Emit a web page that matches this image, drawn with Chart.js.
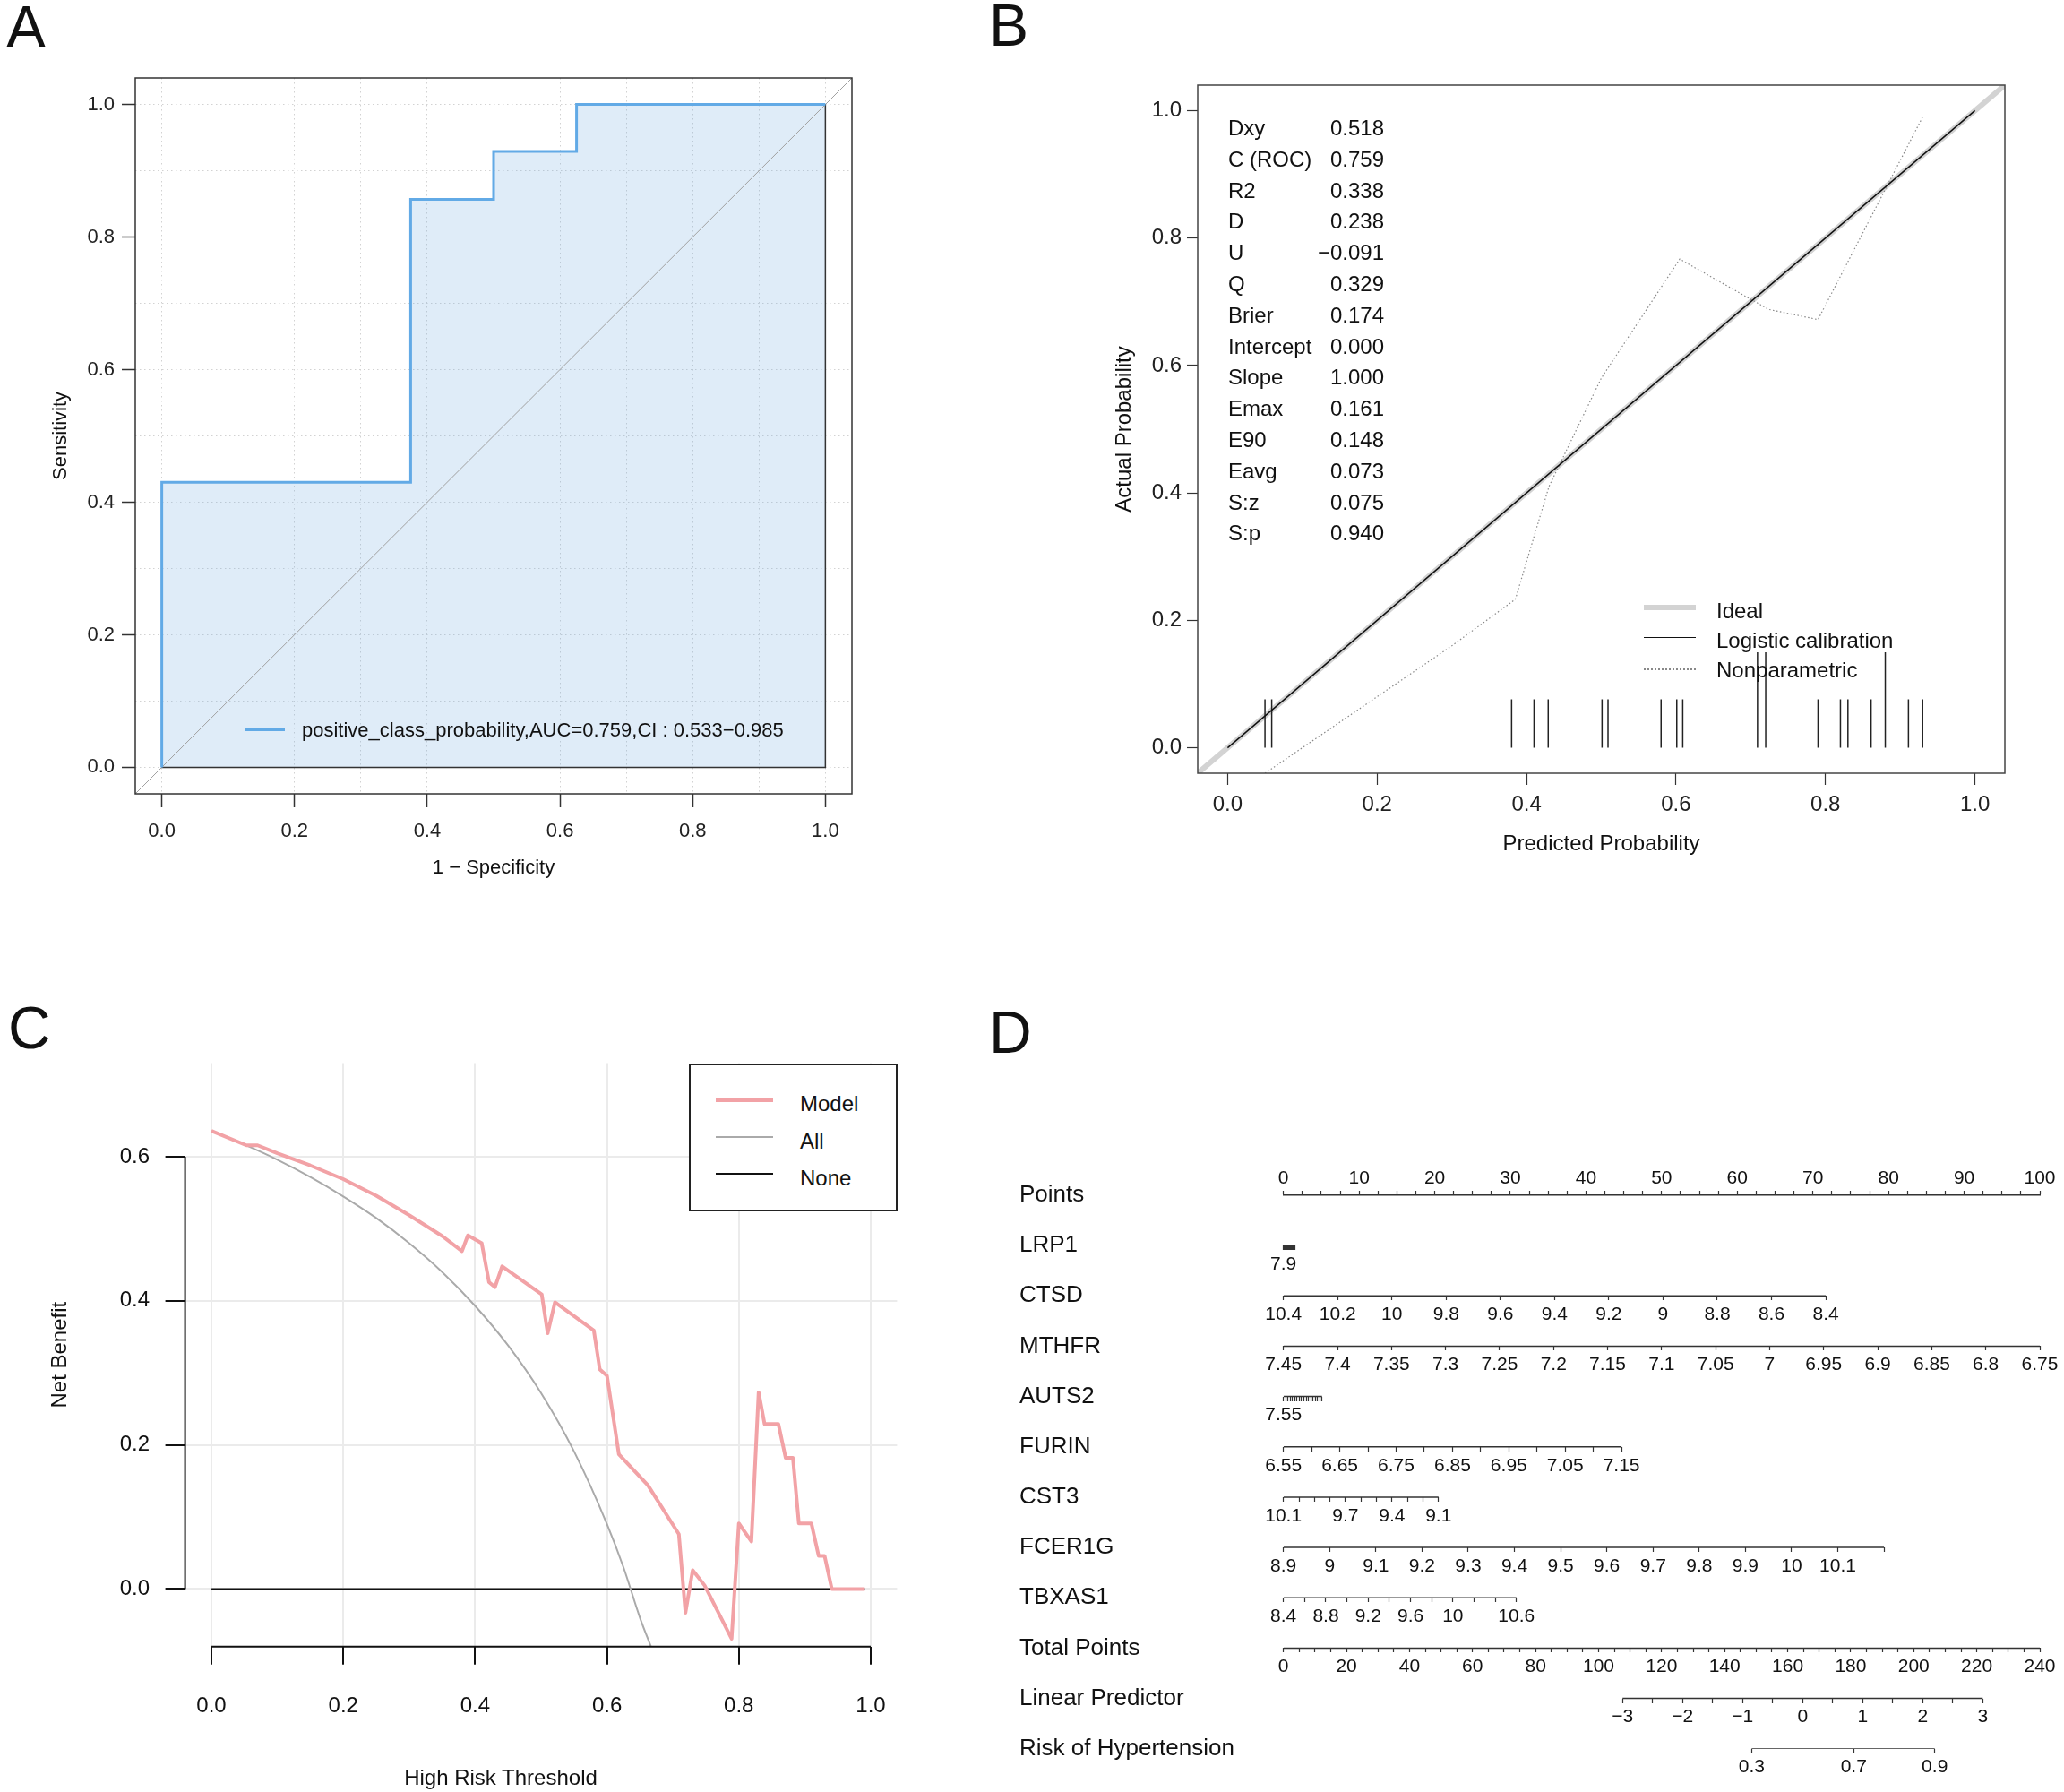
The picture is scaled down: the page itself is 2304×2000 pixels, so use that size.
<!DOCTYPE html>
<html>
<head>
<meta charset="utf-8">
<script src="https://cdn.jsdelivr.net/npm/chart.js@4.4.1/dist/chart.umd.min.js"></script>
<style>
  body { margin: 0; background: #fff; }
  #page { position: relative; width: 2304px; height: 2000px; overflow: hidden; font-family: 'Liberation Sans', Arial, sans-serif; color: #111; }
  canvas { position: absolute; }
  .tag { position: absolute; font-size: 66px; line-height: 66px; }
  .txt { position: absolute; white-space: nowrap; font-size: 24px; line-height: 28px; }
  .key { position: absolute; }
</style>
</head>
<body>
<div id="page">
  <div class="tag" style="left:7px;top:-3px">A</div>
  <div class="tag" style="left:1104px;top:-5px">B</div>
  <div class="tag" style="left:9px;top:1114px">C</div>
  <div class="tag" style="left:1104px;top:1119px">D</div>

  <canvas id="rocChart" width="1000" height="1000" style="left:0;top:0"></canvas>
  <canvas id="calChart" width="1154" height="1000" style="left:1150px;top:0"></canvas>
  <canvas id="dcaChart" width="1050" height="900" style="left:0;top:1100px"></canvas>
  <canvas id="nomoChart" width="1204" height="720" style="left:1100px;top:1280px"></canvas>

  <!-- legend A -->
  <div class="key" style="left:274px;top:813px;width:44px;height:3px;background:#62AAE6"></div>
  <div class="txt" style="left:337px;top:801px;font-size:22px">positive_class_probability,AUC=0.759,CI : 0.533−0.985</div>

  <!-- legend B -->
  <div class="key" style="left:1835px;top:675px;width:58px;height:6px;background:#D3D3D3"></div>
  <div class="txt" style="left:1916px;top:668px">Ideal</div>
  <div class="key" style="left:1835px;top:711px;width:58px;height:1px;background:#111"></div>
  <div class="txt" style="left:1916px;top:701px">Logistic calibration</div>
  <div class="key" style="left:1835px;top:746px;width:58px;height:0;border-top:2px dotted #888"></div>
  <div class="txt" style="left:1916px;top:734px">Nonparametric</div>

  <!-- legend C -->
  <div class="key" style="left:769px;top:1187px;width:229px;height:161px;border:2px solid #222;background:#fff"></div>
  <div class="key" style="left:799px;top:1226px;width:64px;height:4px;background:#F2A2A6"></div>
  <div class="txt" style="left:893px;top:1218px">Model</div>
  <div class="key" style="left:799px;top:1268px;width:64px;height:2px;background:#AAAAAA"></div>
  <div class="txt" style="left:893px;top:1260px">All</div>
  <div class="key" style="left:799px;top:1309px;width:64px;height:2px;background:#111"></div>
  <div class="txt" style="left:893px;top:1301px">None</div>
  <div class="txt" style="left:559px;top:1984px;transform:translate(-50%,-50%)">High Risk Threshold</div>
</div>

<script>
// ---- A: ROC curve ----
const rocFpr = [0, 0, 0.375, 0.375, 0.5, 0.5, 0.625, 0.625, 1];
const rocTpr = [0, 0.43, 0.43, 0.857, 0.857, 0.929, 0.929, 1, 1];
const rocGrid = [0, 0.1, 0.2, 0.3, 0.4, 0.5, 0.6, 0.7, 0.8, 0.9, 1];
const rocTicks = [0, 0.2, 0.4, 0.6, 0.8, 1];
const axisRange = [-0.04, 1.04];

// ---- B: calibration ----
const statNames = ['Dxy', 'C (ROC)', 'R2', 'D', 'U', 'Q', 'Brier', 'Intercept', 'Slope', 'Emax', 'E90', 'Eavg', 'S:z', 'S:p'];
const statValues = ['0.518', '0.759', '0.338', '0.238', '−0.091', '0.329', '0.174', '0.000', '1.000', '0.161', '0.148', '0.073', '0.075', '0.940'];
const calTicks = [0, 0.2, 0.4, 0.6, 0.8, 1];
const logisticX = [0, 1];
const logisticY = [0, 1];
const nonparX = [0.05, 0.2, 0.3, 0.385, 0.43, 0.5, 0.605, 0.724, 0.79, 0.93];
const nonparY = [-0.04, 0.08, 0.16, 0.233, 0.41, 0.58, 0.767, 0.688, 0.672, 0.99];
const rugX = [0.05, 0.059, 0.38, 0.41, 0.429, 0.501, 0.509, 0.58, 0.601, 0.609, 0.709, 0.72, 0.79, 0.82, 0.83, 0.861, 0.88, 0.911, 0.93];
const rugH = [0.076, 0.076, 0.076, 0.076, 0.076, 0.076, 0.076, 0.076, 0.076, 0.076, 0.15, 0.15, 0.076, 0.076, 0.076, 0.076, 0.15, 0.076, 0.076];

// ---- C: decision curve ----
const dcaXTicks = [0, 0.2, 0.4, 0.6, 0.8, 1];
const dcaYTicks = [0, 0.2, 0.4, 0.6];
const modelX = [0, 0.053, 0.07, 0.1, 0.15, 0.2, 0.25, 0.3, 0.35, 0.38, 0.389, 0.41, 0.421, 0.43, 0.441, 0.501, 0.51, 0.521, 0.58, 0.589, 0.6, 0.618, 0.662, 0.709, 0.719, 0.73, 0.748, 0.789, 0.8, 0.819, 0.83, 0.839, 0.86, 0.871, 0.882, 0.891, 0.91, 0.921, 0.93, 0.941, 0.991];
const modelY = [0.636, 0.616, 0.616, 0.605, 0.588, 0.569, 0.546, 0.519, 0.49, 0.469, 0.491, 0.48, 0.426, 0.419, 0.448, 0.409, 0.355, 0.398, 0.359, 0.305, 0.296, 0.187, 0.144, 0.076, -0.033, 0.026, 0.005, -0.069, 0.091, 0.066, 0.273, 0.229, 0.229, 0.182, 0.182, 0.091, 0.091, 0.046, 0.046, 0, 0];
const allX = [0, 0.05, 0.1, 0.15, 0.2, 0.25, 0.3, 0.35, 0.4, 0.45, 0.5, 0.55, 0.6, 0.625, 0.65, 0.667];
const allY = [0.636, 0.617, 0.596, 0.572, 0.545, 0.515, 0.48, 0.44, 0.393, 0.338, 0.272, 0.191, 0.09, 0.03, -0.04, -0.081];
const noneX = [0, 0.991];
const noneY = [0, 0];

// ---- D: nomogram ----
const rowNames = ['Points', 'LRP1', 'CTSD', 'MTHFR', 'AUTS2', 'FURIN', 'CST3', 'FCER1G', 'TBXAS1', 'Total Points', 'Linear Predictor', 'Risk of Hypertension'];
const lrp1Ticks = [7.9, 8, 8.1, 8.2, 8.3, 8.4, 8.5, 8.6, 8.7, 8.8, 8.9, 9, 9.1, 9.2, 9.3];
const lrp1Labels = [7.9];
const lrp1Points = [0, 1.5];
const ctsdTicks = [10.4, 10.2, 10, 9.8, 9.6, 9.4, 9.2, 9, 8.8, 8.6, 8.4];
const ctsdLabels = [10.4, 10.2, 10, 9.8, 9.6, 9.4, 9.2, 9, 8.8, 8.6, 8.4];
const ctsdPoints = [0, 71.7];
const mthfrTicks = [7.45, 7.4, 7.35, 7.3, 7.25, 7.2, 7.15, 7.1, 7.05, 7, 6.95, 6.9, 6.85, 6.8, 6.75];
const mthfrLabels = [7.45, 7.4, 7.35, 7.3, 7.25, 7.2, 7.15, 7.1, 7.05, 7, 6.95, 6.9, 6.85, 6.8, 6.75];
const mthfrPoints = [0, 100];
const auts2Ticks = [7.55, 7.6, 7.65, 7.7, 7.75, 7.8, 7.85, 7.9, 7.95, 8, 8.05, 8.1, 8.15, 8.2, 8.25, 8.3, 8.35, 8.4];
const auts2Labels = [7.55];
const auts2Points = [0, 5.1];
const furinTicks = [6.55, 6.6, 6.65, 6.7, 6.75, 6.8, 6.85, 6.9, 6.95, 7, 7.05, 7.1, 7.15];
const furinLabels = [6.55, 6.65, 6.75, 6.85, 6.95, 7.05, 7.15];
const furinPoints = [0, 44.7];
const cst3Ticks = [10.1, 10, 9.9, 9.8, 9.7, 9.6, 9.5, 9.4, 9.3, 9.2, 9.1];
const cst3Labels = [10.1, 9.7, 9.4, 9.1];
const cst3Points = [0, 20.5];
const fcer1gTicks = [8.9, 9, 9.1, 9.2, 9.3, 9.4, 9.5, 9.6, 9.7, 9.8, 9.9, 10, 10.1, 10.2];
const fcer1gLabels = [8.9, 9, 9.1, 9.2, 9.3, 9.4, 9.5, 9.6, 9.7, 9.8, 9.9, 10, 10.1];
const fcer1gPoints = [0, 79.4];
const tbxas1Ticks = [8.4, 8.6, 8.8, 9, 9.2, 9.4, 9.6, 9.8, 10, 10.2, 10.4, 10.6];
const tbxas1Labels = [8.4, 8.8, 9.2, 9.6, 10, 10.6];
const tbxas1Points = [0, 30.8];
const pointsRange = [0, 100];
const totalRange = [0, 240];
const lpTicks = [-3, -2.5, -2, -1.5, -1, -0.5, 0, 0.5, 1, 1.5, 2, 2.5, 3];
const lpLabels = [-3, -2, -1, 0, 1, 2, 3];
const lpTotal = [107.6, 221.9];
const riskLp = [-0.85, 0.85, 2.2];
const riskLabels = ['0.3', '0.7', '0.9'];

Chart.defaults.font.family = "'Liberation Sans', Arial, sans-serif";
Chart.defaults.color = '#111';
Chart.defaults.animation = false;
Chart.defaults.plugins.legend.display = false;
Chart.defaults.plugins.tooltip.enabled = false;

const fixTicks = vals => scale => { scale.ticks = vals.map(v => ({value: v})); };
const toPoints = (xs, ys) => xs.map((x, i) => ({x, y: ys[i]}));
const fmtNum = v => String(Math.round(v * 100) / 100).replace('-', '\u2212');

// box round the plot region, as R's box()
const frame = {
    id: 'frame',
    afterDraw(chart, args, opts) {
        const {ctx, chartArea: a} = chart;
        ctx.save();
        ctx.strokeStyle = opts.color;
        ctx.lineWidth = opts.width;
        ctx.strokeRect(a.left, a.top, a.right - a.left, a.bottom - a.top);
        ctx.restore();
    }
};

// axis lines that run from first to last tick only
const axisLines = {
    id: 'axisLines',
    afterDraw(chart, args, opts) {
        const {ctx, chartArea: a, scales: {x, y}} = chart;
        const xt = x.ticks, yt = y.ticks;
        ctx.save();
        ctx.strokeStyle = opts.color;
        ctx.lineWidth = opts.width;
        ctx.beginPath();
        ctx.moveTo(x.getPixelForValue(xt[0].value), a.bottom);
        ctx.lineTo(x.getPixelForValue(xt[xt.length - 1].value), a.bottom);
        ctx.moveTo(a.left, y.getPixelForValue(yt[0].value));
        ctx.lineTo(a.left, y.getPixelForValue(yt[yt.length - 1].value));
        ctx.stroke();
        ctx.restore();
    }
};

function createRocChart() {
    const roc = toPoints(rocFpr, rocTpr);
    const last = rocFpr.length - 1;
    const edge = [roc[last], {x: rocFpr[last], y: 0}, {x: rocFpr[0], y: 0}];
    const chance = toPoints(axisRange, axisRange);
    const isMajor = v => rocTicks.includes(v);
    const axis = (fit, title, pad) => ({
        type: 'linear', min: axisRange[0], max: axisRange[1], bounds: 'data',
        afterBuildTicks: fixTicks(rocGrid),
        afterFit: fit,
        grid: { color: '#D2D2D2', lineWidth: 1, tickLength: 15, tickWidth: 1.5,
                tickColor: c => c.tick && isMajor(c.tick.value) ? '#333' : 'rgba(0,0,0,0)' },
        border: { display: false, dash: [1.5, 3.5] },
        ticks: { autoSkip: false, maxRotation: 0, padding: pad, font: {size: 22}, color: '#222',
                 callback: v => isMajor(v) ? v.toFixed(1) : '' },
        title: Object.assign({ display: true, font: {size: 22}, color: '#111' }, title)
    });
    new Chart(document.getElementById('rocChart'), {
        type: 'line',
        data: {
            datasets: [
                { data: roc, borderColor: '#62AAE6', borderWidth: 3, pointRadius: 0, fill: false },
                { data: edge, borderColor: '#333', borderWidth: 1.5, pointRadius: 0, fill: false },
                { data: chance, borderColor: '#A0A0A0', borderWidth: 1, pointRadius: 0, fill: false },
                { data: roc, borderWidth: 0, pointRadius: 0, fill: 'origin', backgroundColor: 'rgba(110,170,225,0.22)' }
            ]
        },
        options: {
            responsive: false, devicePixelRatio: 1,
            layout: { padding: { left: 0, top: 87, right: 49, bottom: 0 } },
            scales: {
                x: axis(s => { s.height = 114; }, { text: '1 − Specificity', padding: {top: 0, bottom: 18} }, 14),
                y: axis(s => { s.width = 151; }, { text: 'Sensitivity', padding: {top: 55, bottom: 0} }, 8)
            },
            plugins: { frame: { color: '#333', width: 1.5 } }
        },
        plugins: [frame]
    });
}

function createCalibrationChart() {
    const rug = [];
    rugX.forEach((x, i) => {
        rug.push({x, y: 0}, {x, y: rugH[i]}, {x, y: null});
    });
    const axis = (fit, title, tl, pad) => ({
        type: 'linear', min: axisRange[0], max: axisRange[1], bounds: 'data',
        afterBuildTicks: fixTicks(calTicks),
        afterFit: fit,
        grid: { drawOnChartArea: false, tickLength: tl, tickColor: '#333', tickWidth: 1.2 },
        border: { display: false },
        ticks: { autoSkip: false, maxRotation: 0, padding: pad, font: {size: 24}, color: '#222',
                 callback: v => v.toFixed(1) },
        title: Object.assign({ display: true, font: {size: 24}, color: '#111' }, title)
    });
    new Chart(document.getElementById('calChart'), {
        type: 'line',
        data: {
            datasets: [
                { data: toPoints(logisticX, logisticY), borderColor: '#111', borderWidth: 1.5, pointRadius: 0 },
                { data: toPoints(nonparX, nonparY), borderColor: '#888', borderWidth: 1.2, borderDash: [1.5, 2.5], pointRadius: 0 },
                { data: rug, borderColor: '#222', borderWidth: 1.5, pointRadius: 0, spanGaps: false },
                { data: toPoints(axisRange, axisRange), borderColor: '#D3D3D3', borderWidth: 6, pointRadius: 0 }
            ]
        },
        options: {
            responsive: false, devicePixelRatio: 1,
            layout: { padding: { left: 0, top: 95, right: 66, bottom: 0 } },
            scales: {
                x: axis(s => { s.height = 137; }, { text: 'Predicted Probability', padding: {top: 0, bottom: 43} }, 13, 8),
                y: axis(s => { s.width = 187; }, { text: 'Actual Probability', padding: {top: 91, bottom: 0} }, 12, 6)
            },
            plugins: { frame: { color: '#444', width: 1.5 } }
        },
        plugins: [frame]
    });

    const page = document.getElementById('page');
    statNames.forEach((name, i) => {
        const top = 143 + i * 34.8 - 14;
        const label = document.createElement('div');
        label.className = 'txt';
        label.style.left = '1371px';
        label.style.top = top + 'px';
        label.textContent = name;
        page.appendChild(label);
        const value = document.createElement('div');
        value.className = 'txt';
        value.style.left = '1445px';
        value.style.width = '100px';
        value.style.textAlign = 'right';
        value.style.top = top + 'px';
        value.textContent = statValues[i];
        page.appendChild(value);
    });
}

function createDecisionChart() {
    const axis = (ticks, min, max, fit, tl, pad, title) => ({
        type: 'linear', min, max, bounds: 'data',
        afterBuildTicks: fixTicks(ticks),
        afterFit: fit,
        grid: { color: '#EBEBEB', lineWidth: 2, tickLength: tl, tickColor: '#111', tickWidth: 2 },
        border: { display: false },
        ticks: { autoSkip: false, maxRotation: 0, padding: pad, font: {size: 24}, color: '#111',
                 callback: v => v.toFixed(1) },
        title
    });
    new Chart(document.getElementById('dcaChart'), {
        type: 'line',
        data: {
            datasets: [
                { data: toPoints(modelX, modelY), borderColor: '#F2A2A6', borderWidth: 4, pointRadius: 0, borderJoinStyle: 'round' },
                { data: toPoints(allX, allY), borderColor: '#AAAAAA', borderWidth: 2, pointRadius: 0, cubicInterpolationMode: 'monotone' },
                { data: toPoints(noneX, noneY), borderColor: '#111', borderWidth: 2, pointRadius: 0 }
            ]
        },
        options: {
            responsive: false, devicePixelRatio: 1,
            layout: { padding: { left: 0, top: 86.6, right: 48.6, bottom: 0 } },
            scales: {
                x: axis(dcaXTicks, -0.04, 1.04, s => { s.height = 162.3; }, 20, 32, { display: false }),
                y: axis(dcaYTicks, -0.08, 0.73, s => { s.width = 206.6; }, 22, 17.6,
                        { display: true, text: 'Net Benefit', font: {size: 24}, color: '#111', padding: {top: 52.6, bottom: 0} })
            },
            plugins: { axisLines: { color: '#111', width: 2 } }
        },
        plugins: [axisLines]
    });
}

// value at the left and right edge of the plot for a row drawn against a reference axis [0, ref]
function edgeValues(ticks, span, ref) {
    const first = ticks[0], last = ticks[ticks.length - 1];
    const perUnit = (last - first) / (span[1] - span[0]);
    return [first - perUnit * span[0], first + perUnit * (ref - span[0])];
}

function rowScale(row, edges, ticks, label) {
    return {
        type: 'linear', axis: 'x', position: {y: row},
        min: Math.min(edges[0], edges[1]), max: Math.max(edges[0], edges[1]),
        reverse: edges[0] > edges[1], bounds: 'data',
        afterBuildTicks: fixTicks(ticks),
        grid: { drawOnChartArea: false, drawTicks: true, tickLength: 5, tickColor: '#333', tickWidth: 1.2 },
        border: { display: false },
        ticks: { autoSkip: false, maxRotation: 0, minRotation: 0, padding: 3.4, font: {size: 21}, color: '#111',
                 callback: label }
    };
}

function createNomogram() {
    const pick = labels => v => labels.includes(v) ? fmtNum(v) : '';
    const lpEdges = edgeValues(lpTicks, lpTotal, totalRange[1]);
    const rows = [
        { id: 'lrp1', row: 1, ticks: lrp1Ticks, edges: edgeValues(lrp1Ticks, lrp1Points, 100), label: pick(lrp1Labels) },
        { id: 'ctsd', row: 2, ticks: ctsdTicks, edges: edgeValues(ctsdTicks, ctsdPoints, 100), label: pick(ctsdLabels) },
        { id: 'mthfr', row: 3, ticks: mthfrTicks, edges: edgeValues(mthfrTicks, mthfrPoints, 100), label: pick(mthfrLabels) },
        { id: 'auts2', row: 4, ticks: auts2Ticks, edges: edgeValues(auts2Ticks, auts2Points, 100), label: pick(auts2Labels) },
        { id: 'furin', row: 5, ticks: furinTicks, edges: edgeValues(furinTicks, furinPoints, 100), label: pick(furinLabels) },
        { id: 'cst3', row: 6, ticks: cst3Ticks, edges: edgeValues(cst3Ticks, cst3Points, 100), label: pick(cst3Labels) },
        { id: 'fcer1g', row: 7, ticks: fcer1gTicks, edges: edgeValues(fcer1gTicks, fcer1gPoints, 100), label: pick(fcer1gLabels) },
        { id: 'tbxas1', row: 8, ticks: tbxas1Ticks, edges: edgeValues(tbxas1Ticks, tbxas1Points, 100), label: pick(tbxas1Labels) },
        { id: 'lp', row: 10, ticks: lpTicks, edges: lpEdges, label: pick(lpLabels) },
        { id: 'risk', row: 11, ticks: riskLp, edges: lpEdges, label: (v, i) => riskLabels[i] }
    ];

    const scales = {
        y: {
            type: 'linear', min: 0, max: rowNames.length - 1, reverse: true, bounds: 'data',
            afterBuildTicks: fixTicks(rowNames.map((_, i) => i)),
            afterFit: s => { s.width = 294.7; },
            grid: { display: false }, border: { display: false },
            ticks: { crossAlign: 'far', font: {size: 26}, color: '#111', autoSkip: false,
                     callback: v => rowNames[v] }
        },
        pts: {
            type: 'linear', axis: 'x', position: 'top', min: pointsRange[0], max: pointsRange[1], bounds: 'data',
            afterFit: s => { s.height = 54; },
            grid: { drawOnChartArea: false, tickLength: 5, tickColor: '#333', tickWidth: 1.2 },
            border: { display: true, color: '#333', width: 1.5 },
            ticks: { stepSize: 2.5, autoSkip: false, maxRotation: 0, padding: 1.4, font: {size: 21}, color: '#111',
                     callback: v => v % 10 === 0 ? String(v) : '' }
        },
        total: {
            type: 'linear', axis: 'x', position: {y: 9}, min: totalRange[0], max: totalRange[1], bounds: 'data',
            grid: { drawOnChartArea: false, tickLength: 5, tickColor: '#333', tickWidth: 1.2 },
            border: { display: false },
            ticks: { stepSize: 5, autoSkip: false, maxRotation: 0, padding: 3.4, font: {size: 21}, color: '#111',
                     callback: v => v % 20 === 0 ? String(v) : '' }
        }
    };
    const datasets = [{
        xAxisID: 'total', yAxisID: 'y',
        data: [{x: totalRange[0], y: 9}, {x: totalRange[1], y: 9}],
        borderColor: '#333', borderWidth: 1.5, pointRadius: 0
    }];
    rows.forEach(r => {
        scales[r.id] = rowScale(r.row, r.edges, r.ticks, r.label);
        datasets.push({
            xAxisID: r.id, yAxisID: 'y',
            data: [{x: r.ticks[0], y: r.row}, {x: r.ticks[r.ticks.length - 1], y: r.row}],
            borderColor: '#333', borderWidth: 1.5, pointRadius: 0
        });
    });

    new Chart(document.getElementById('nomoChart'), {
        type: 'line',
        data: { datasets },
        options: {
            responsive: false, devicePixelRatio: 1,
            layout: { padding: { left: 38, top: 0, right: 27, bottom: 48.3 } },
            scales
        }
    });
}

createRocChart();
createCalibrationChart();
createDecisionChart();
createNomogram();
</script>
</body>
</html>
